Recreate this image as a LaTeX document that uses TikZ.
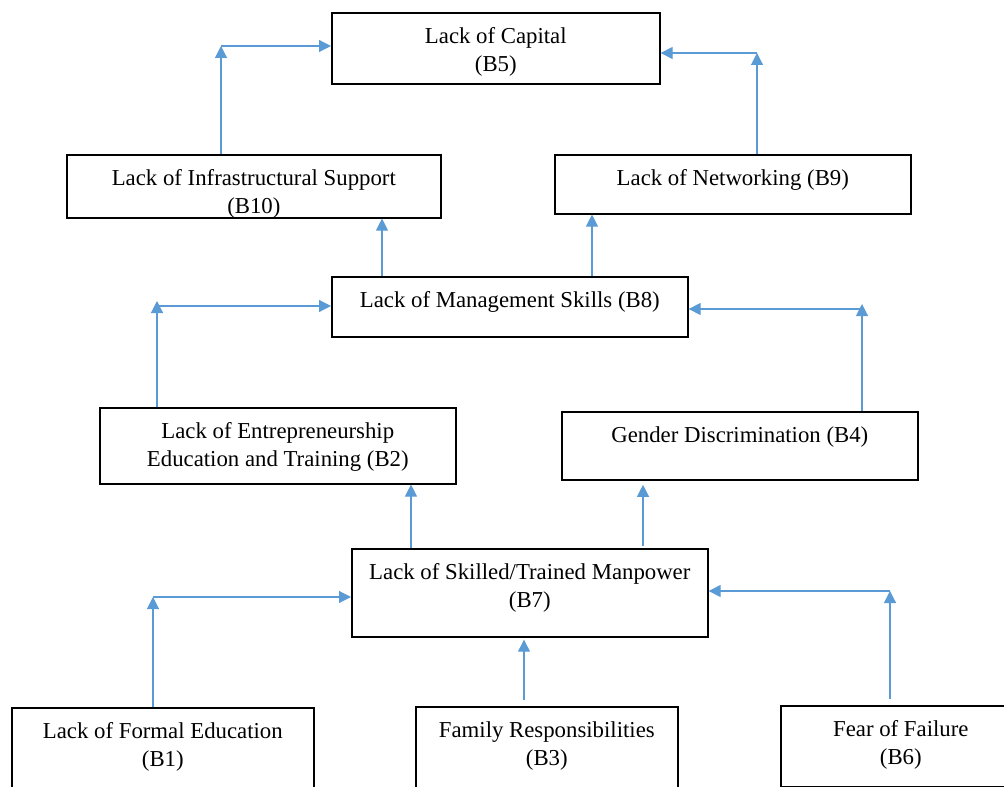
\documentclass[tikz,border=0pt]{standalone}
\usepackage{fontspec}
\setmainfont{Liberation Serif}
\usetikzlibrary{arrows.meta,calc}
\definecolor{arrblue}{RGB}{91,155,213}
\tikzset{
  box/.style={draw, line width=1.1pt, anchor=north west, inner sep=0pt},
  txt/.style={anchor=north, align=center, inner sep=0pt, font=\fontsize{16.2}{19.9}\selectfont},
  arr/.style={draw=arrblue, line width=0.8pt, -{Triangle[length=3mm,width=3mm]}}
}

\begin{document}
\begin{tikzpicture}[x=0.025cm, y=-0.025cm]
\useasboundingbox (0,0) rectangle (1004,787);
\clip (0,0) rectangle (1004,787);
% boxes
\node[box, minimum width=8.2cm, minimum height=1.775cm] (b5) at (331,12) {};
\node[box, minimum width=9.35cm, minimum height=1.575cm] (b10) at (66,154) {};
\node[box, minimum width=8.9cm, minimum height=1.475cm] (b9) at (554,154) {};
\node[box, minimum width=8.9cm, minimum height=1.5cm] (b8) at (331,276) {};
\node[box, minimum width=8.9cm, minimum height=1.9cm] (b2) at (99,407) {};
\node[box, minimum width=8.9cm, minimum height=1.7cm] (b4) at (561,411) {};
\node[box, minimum width=8.9cm, minimum height=2.2cm] (b7) at (351,548) {};
\node[box, minimum width=7.55cm, minimum height=2.2cm] (b1) at (11,707) {};
\node[box, minimum width=6.55cm, minimum height=2.2cm] (b3) at (415,706) {};
\node[box, minimum width=6cm, minimum height=2.025cm] (b6) at (780,705) {};
% texts
\node[txt] (t5) at ($(b5.north)+(0,15)$) {Lack of Capital\\(B5)};
\node[txt] (t10) at ($(b10.north)+(0,15)$) {Lack of Infrastructural Support\\(B10)};
\node[txt] (t9) at ($(b9.north)+(0,15)$) {Lack of Networking (B9)};
\node[txt] (t8) at ($(b8.north)+(0,15)$) {Lack of Management Skills (B8)};
\node[txt] (t2) at ($(b2.north)+(0,15)$) {Lack of Entrepreneurship\\Education and Training (B2)};
\node[txt] (t4) at ($(b4.north)+(0,15)$) {Gender Discrimination (B4)};
\node[txt] (t7) at ($(b7.north)+(0,15)$) {Lack of Skilled/Trained Manpower\\(B7)};
\node[txt] (t1) at ($(b1.north)+(0,15)$) {Lack of Formal Education\\(B1)};
\node[txt] (t3) at ($(b3.north)+(0,15)$) {Family Responsibilities\\(B3)};
\node[txt] (t6) at ($(b6.north)+(0,15)$) {Fear of Failure\\(B6)};
% corners and columns
\coordinate (c10) at (221,46);
\coordinate (c9) at (757,53);
\coordinate (c2) at (157,306);
\coordinate (c4) at (862,309);
\coordinate (c1) at (153,597);
\coordinate (c6) at (890,591);
\coordinate (x810) at (382,0);
\coordinate (x89) at (592,0);
\coordinate (x72) at (411,0);
\coordinate (x74) at (643,0);
\coordinate (x37) at (524,0);
% arrows
\draw[arr] (b10.north -| c10) -- (c10);
\draw[arr] (c10) -- (c10 -| b5.west);
\draw[arr] (b9.north -| c9) -- (c9);
\draw[arr] (c9) -- (c9 -| b5.east);
\draw[arr] (b8.north -| x810) -- (b10.south -| x810);
\draw[arr] (b8.north -| x89) -- (b9.south -| x89);
\draw[arr] (b2.north -| c2) -- ($(c2)+(0,-5)$);
\draw[arr] (c2) -- (c2 -| b8.west);
\draw[arr] (b4.north -| c4) -- ($(c4)+(0,-5)$);
\draw[arr] (c4) -- (c4 -| b8.east);
\draw[arr] (b7.north -| x72) -- (b2.south -| x72);
\draw[arr, shorten <=1.5pt, shorten >=3pt] (b7.north -| x74) -- (b4.south -| x74);
\draw[arr] (b1.north -| c1) -- (c1);
\draw[arr] (c1) -- (c1 -| b7.west);
\draw[arr, shorten <=4pt, shorten >=1.5pt] (b3.north -| x37) -- (b7.south -| x37);
\draw[arr, shorten <=4pt] (b6.north -| c6) -- (c6);
\draw[arr] (c6) -- (c6 -| b7.east);
\end{tikzpicture}
\end{document}
